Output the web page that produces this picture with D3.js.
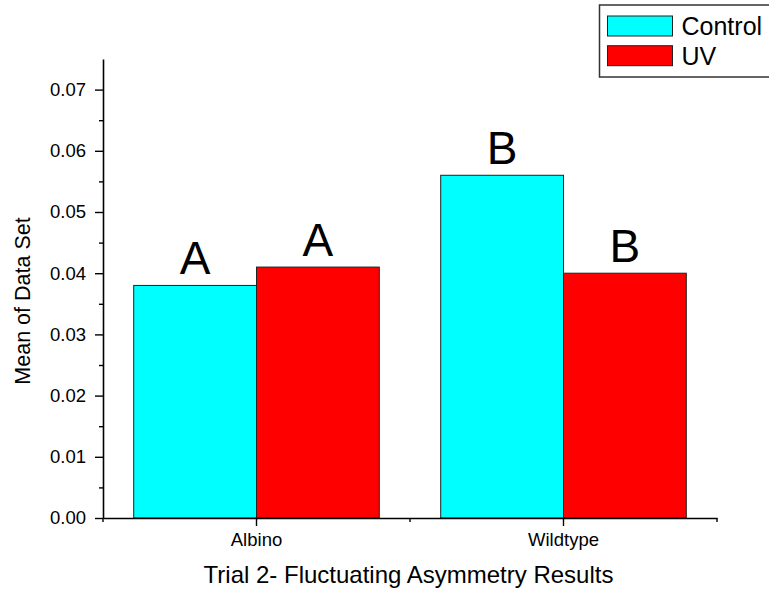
<!DOCTYPE html>
<html>
<head>
<meta charset="utf-8">
<script src="https://cdn.jsdelivr.net/npm/d3@7"></script>
<style>
  body { margin: 0; background: #fff; }
  svg text { font-family: "Liberation Sans", Arial, sans-serif; fill: #000; }
</style>
</head>
<body>
<div id="bar-chart"></div>
<script>
// data
const groups = ['Albino', 'Wildtype'];
const series = ['Control', 'UV'];
const controlValues = [0.038, 0.056];
const uvValues = [0.041, 0.040];
const letters = [['A', 'A'], ['B', 'B']];
const yTicks = [0, 0.01, 0.02, 0.03, 0.04, 0.05, 0.06, 0.07];
const yMinorTicks = [0.005, 0.015, 0.025, 0.035, 0.045, 0.055, 0.065];
const seriesColors = ['#00FFFF', '#FF0000'];

//canvas
const margin = { left: 103, right: 52, top: 59, bottom: 72 };
const width = 769 - margin.left - margin.right;
const height = 590 - margin.top - margin.bottom;

const svg = d3.select('#bar-chart')
  .append('svg')
  .attr('width', 769)
  .attr('height', 590);

const g = svg.append('g')
  .attr('transform', `translate(${margin.left}, ${margin.top})`);

//scales
const x = d3.scaleBand()
  .domain(groups)
  .range([0, width])
  .padding(0);

const xSub = d3.scaleBand()
  .domain(series)
  .range([0, x.bandwidth()])
  .paddingInner(0)
  .paddingOuter(0.25);

const y = d3.scaleLinear()
  .domain([0, 0.075])
  .range([height, 0]);

const color = d3.scaleOrdinal().domain(series).range(seriesColors);

//bars
const rows = groups.map((grp, i) => ({
  group: grp,
  values: [
    { series: 'Control', value: controlValues[i], letter: letters[i][0] },
    { series: 'UV', value: uvValues[i], letter: letters[i][1] }
  ]
}));

const groupG = g.selectAll('.group')
  .data(rows)
  .enter().append('g')
  .attr('class', 'group')
  .attr('transform', d => `translate(${x(d.group)}, 0)`);

groupG.selectAll('rect')
  .data(d => d.values)
  .enter().append('rect')
  .attr('x', d => xSub(d.series))
  .attr('y', d => y(d.value))
  .attr('width', xSub.bandwidth())
  .attr('height', d => height - y(d.value))
  .attr('fill', d => color(d.series))
  .attr('stroke', '#222')
  .attr('stroke-width', 1);

groupG.selectAll('.letter')
  .data(d => d.values)
  .enter().append('text')
  .attr('class', 'letter')
  .attr('x', d => xSub(d.series) + xSub.bandwidth() / 2)
  .attr('y', d => y(d.value) - 11)
  .attr('text-anchor', 'middle')
  .attr('font-size', '46px')
  .text(d => d.letter);

//y axis
const yAxis = d3.axisLeft(y)
  .tickValues(yTicks)
  .tickSize(8)
  .tickSizeOuter(0)
  .tickPadding(9)
  .tickFormat(d3.format('.2f'));
const yAxisG = g.append('g')
  .attr('class', 'y axis')
  .call(yAxis);
yAxisG.selectAll('text').attr('font-size', '18.5px');

const yMinor = d3.axisLeft(y)
  .tickValues(yMinorTicks)
  .tickSize(4)
  .tickFormat('');
g.append('g').attr('class', 'y minor').call(yMinor)
  .select('.domain').remove();

//x axis
const xAxis = d3.axisBottom(x)
  .tickSize(8)
  .tickSizeOuter(0)
  .tickPadding(7);
const xAxisG = g.append('g')
  .attr('class', 'x axis')
  .attr('transform', `translate(0, ${height})`)
  .call(xAxis);
xAxisG.selectAll('text').attr('font-size', '18.5px');

// minor ticks between groups
const xMinorPos = d3.range(groups.length + 1).map(i => x.range()[0] + i * x.step());
xAxisG.selectAll('.minor')
  .data(xMinorPos)
  .enter().append('line')
  .attr('class', 'minor')
  .attr('x1', d => d).attr('x2', d => d)
  .attr('y1', 0).attr('y2', 4)
  .attr('stroke', '#000');

svg.selectAll('.axis .domain').attr('stroke-width', 1.6);
svg.selectAll('.axis line, .minor line, line.minor').attr('stroke-width', 1.4);

//labels
g.append('text')
  .attr('transform', 'rotate(-90)')
  .attr('x', -(301 - margin.top))
  .attr('y', 30 - margin.left)
  .attr('text-anchor', 'middle')
  .attr('font-size', '21.5px')
  .text('Mean of Data Set');

svg.append('text')
  .attr('x', 408.5)
  .attr('y', 583)
  .attr('text-anchor', 'middle')
  .attr('font-size', '24px')
  .text('Trial 2- Fluctuating Asymmetry Results');

//legend
const legend = svg.append('g')
  .attr('transform', 'translate(599.5, 5)');

legend.append('rect')
  .attr('width', 220)
  .attr('height', 72)
  .attr('fill', '#fff')
  .attr('stroke', '#333')
  .attr('stroke-width', 1.5);

series.forEach((s, idx) => {
  let row = legend.append('g').attr('transform', `translate(8, ${11 + idx * 29.7})`);
  row.append('rect').attr('width', 65).attr('height', 20)
    .attr('fill', color(s)).attr('stroke', '#222').attr('stroke-width', 1);
  row.append('text').attr('x', 74).attr('y', 19)
    .attr('font-size', '25px')
    .text(s);
});
</script>
</body>
</html>
